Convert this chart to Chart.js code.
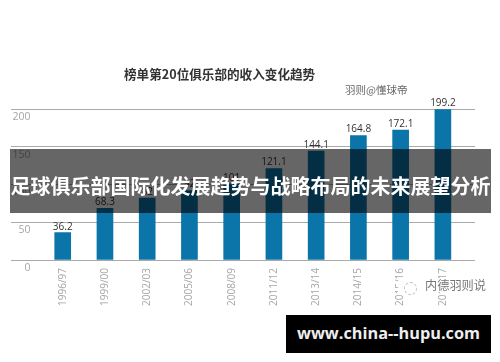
<!DOCTYPE html>
<html>
<head>
<meta charset="utf-8">
<script src="https://cdn.jsdelivr.net/npm/chart.js@4"></script>
<style>
  body { margin: 0; background: #fff; font-family: "Noto Sans CJK SC", sans-serif; }
  #wrap { position: relative; width: 500px; height: 362px; overflow: hidden; }
  #myChart { position: absolute; left: 0; top: 0; }
  .txt { position: absolute; white-space: nowrap; }
  #title { left: 124px; top: 65px; font-size: 12.6px; font-weight: 700; line-height: 18px; color: #333; }
  #author { left: 345px; top: 82px; font-size: 10.5px; line-height: 16px; color: #666; }
  #band { left: 10px; top: 149px; width: 481px; height: 64px; background: rgba(0,0,0,.6); color: #fff;
          font-size: 20px; font-weight: 700; line-height: 74px; text-align: center; }
  #mark { left: 398px; top: 278px; width: 88px; height: 14px; background: rgba(255,255,255,.9); color: #777;
          font-size: 12.2px; line-height: 14px; text-align: right; }
  #icon { left: 404px; top: 282px; width: 11px; height: 11px; border: 1px dashed #bbb; border-radius: 50%; }
  #site { left: 286px; top: 315px; width: 205px; height: 38px; background: #000; color: #eee;
          font-family: "Open Sans", sans-serif; font-size: 16.3px; font-weight: 700; line-height: 37px; text-align: center; }
</style>
</head>
<body>
<div id="wrap">
  <canvas id="myChart" width="500" height="362"></canvas>
  <div class="txt" id="title">榜单第20位俱乐部的收入变化趋势</div>
  <div class="txt" id="author">羽则@懂球帝</div>
  <div class="txt" id="band">足球俱乐部国际化发展趋势与战略布局的未来展望分析</div>
  <div class="txt" id="mark">内德羽则说</div>
  <div class="txt" id="icon"></div>
  <div class="txt" id="site">www.china--hupu.com</div>
</div>
<script>
const seasons = ['1996/97', '1999/00', '2002/03', '2005/06', '2008/09', '2011/12', '2013/14', '2014/15', '2015/16', '2016/17'];
const revenue = [36.2, 68.3, 82, 92, 101, 121.1, 144.1, 164.8, 172.1, 199.2];
const barLabels = ['36.2', '68.3', '82', '92', '101', '121.1', '144.1', '164.8', '172.1', '199.2'];
const yTicks = [0, 50, 100, 150, 200];

// value labels above each bar
const valueLabels = {
  id: 'valueLabels',
  afterDatasetsDraw(chart) {
    const c = chart.ctx;
    c.save();
    c.font = '10px "Open Sans"';
    c.fillStyle = '#333';
    c.textAlign = 'center';
    c.textBaseline = 'bottom';
    chart.getDatasetMeta(0).data.forEach((bar, i) => {
      c.fillText(barLabels[i], bar.x, bar.y - 1);
    });
    c.restore();
  }
};

const ctx = document.getElementById('myChart');

new Chart(ctx, {
  type: 'bar',
  data: {
    labels: seasons,
    datasets: [{
      data: revenue,
      backgroundColor: '#0b74a8',
      barThickness: 16
    }]
  },
  plugins: [valueLabels],
  options: {
    responsive: false,
    animation: false,
    layout: { padding: { top: 109, right: 25, bottom: 0, left: 0 } },
    plugins: { legend: { display: false }, tooltip: { enabled: false } },
    scales: {
      x: {
        grid: { display: false },
        border: { display: false },
        afterFit(scale) { scale.height = 102; },
        ticks: {
          autoSkip: false, minRotation: 90, maxRotation: 90, padding: 0,
          color: '#a6a6a6', font: { family: 'Open Sans', size: 10 }
        }
      },
      y: {
        min: 0,
        max: 200,
        afterFit(scale) { scale.width = 41.6; },
        afterBuildTicks(scale) { scale.ticks = yTicks.map(v => ({ value: v })); },
        border: { display: false },
        grid: { color: '#aaa', lineWidth: 1, tickLength: 30.6 },
        ticks: { color: '#a6a6a6', padding: -19.5, labelOffset: 8, font: { family: 'Open Sans', size: 10.5 } }
      },
      // only there so the grid lines run a little past the last bar
      right: {
        position: 'right',
        min: 0,
        max: 200,
        afterFit(scale) { scale.width = 11; },
        afterBuildTicks(scale) { scale.ticks = yTicks.map(v => ({ value: v })); },
        border: { display: false },
        grid: { display: true, drawOnChartArea: false, color: '#aaa', tickLength: 11 },
        ticks: { display: false }
      }
    }
  }
});
</script>
</body>
</html>
